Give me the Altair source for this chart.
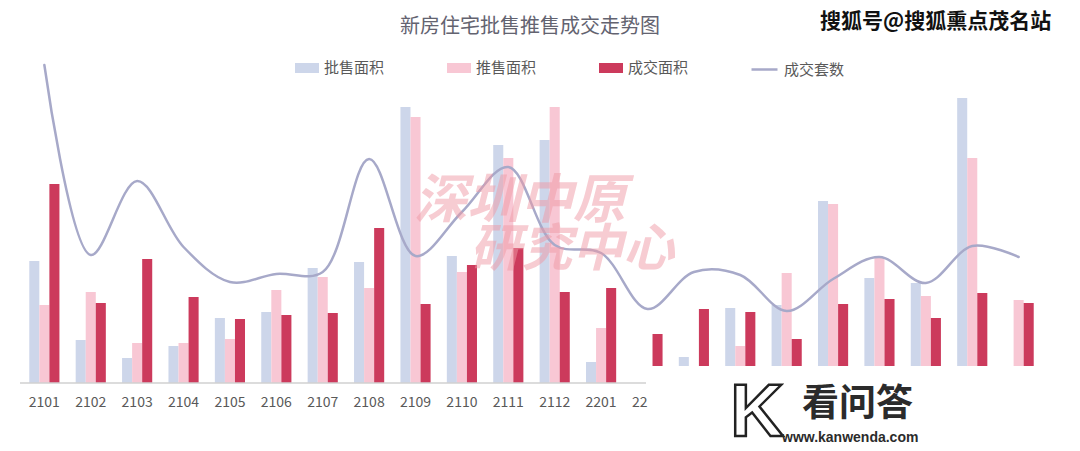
import altair as alt
import pandas as pd

# ---------------- data ----------------
months = ["2101", "2102", "2103", "2104", "2105", "2106", "2107", "2108", "2109", "2110", "2111",
          "2112", "2201", "2202", "2203", "2204", "2205", "2206", "2207", "2208", "2209", "2210"]
series_names = ["批售面积", "推售面积", "成交面积"]
pishou = [12.2, 4.3, 2.5, 3.7, 6.5, 7.1, 11.5, 12.1, 27.6, 12.7, 23.8, 24.3, 2.1,
          None, 0.9, 5.8, 6.1, 16.5, 8.8, 8.3, 26.8, None]
tuishou = [7.8, 9.1, 4.0, 4.0, 4.4, 9.3, 10.6, 9.5, 26.6, 11.1, 22.5, 27.6, 5.5,
           None, None, 2.0, 9.3, 16.2, 10.8, 7.0, 20.8, 6.6]
chengjiao = [19.9, 8.0, 12.4, 8.6, 6.4, 6.8, 7.0, 15.5, 7.9, 11.8, 13.5, 9.1, 9.5,
             3.2, 5.7, 5.4, 2.7, 6.2, 6.7, 4.8, 7.3, 6.3]
taoshu = [6360, 2560, 4040, 2720, 2020, 2180, 2220, 4480, 2540, 3420, 4320, 2760, 2600,
          1480, 2220, 2160, 1440, 2080, 2520, 2000, 2740, 2520]
line_name = "成交套数"
axis_months = months[:14]

colors = ["#cdd6ea", "#f8c7d4", "#cc3a5c"]
line_color = "#a7a9c9"
FONT = "Noto Sans CJK SC"
GREY = "#595959"

split = 13  # the right-hand part of the picture is a second screenshot, sitting higher
rows = []
for i, m in enumerate(months):
    for s, arr in zip(series_names, [pishou, tuishou, chengjiao]):
        rows.append({"month": m, "series": s, "value": arr[i], "seg": "a" if i < split else "b"})
bar_df = pd.DataFrame(rows)
line_df = pd.DataFrame({"month": months, "taoshu": taoshu, "name": [line_name] * len(months)})

# ---------------- layout ----------------
W, H = 1023, 333
bar_max = 33.3
shift = 1.7          # 17 px lift of the pasted right-hand screenshot
line_max = 6660

x_scale = alt.Scale(domain=months, paddingInner=0.35, paddingOuter=0.2)
x_axis = alt.Axis(title=None, labelAngle=0, ticks=False, tickSize=0, domain=False, grid=False,
                  labelPadding=12, labelFontSize=14, labelColor=GREY, labelFont=FONT,
                  values=axis_months,
                  labelExpr="datum.value == '2202' ? '22' : datum.value",
                  labelAlign={"condition": {"test": "datum.value == '2202'", "value": "right"},
                              "value": "center"})
x_enc = alt.X("month:N", scale=x_scale, axis=x_axis, sort=months)
xoff = alt.XOffset("series:N", sort=series_names,
                   scale=alt.Scale(domain=series_names, paddingInner=0, paddingOuter=0))

bar_legend = alt.Legend(title=None, orient="none", legendX=275, legendY=6, direction="horizontal",
                        symbolType="M-1,-0.417H1V0.417H-1Z", symbolSize=576, symbolStrokeWidth=0,
                        labelFontSize=15, labelColor=GREY, labelFont=FONT, labelOffset=5,
                        columnPadding=62, padding=0)
color_enc = alt.Color("series:N", scale=alt.Scale(domain=series_names, range=colors), legend=bar_legend)

bars_a = alt.Chart(bar_df).transform_filter("datum.seg == 'a'").mark_bar().encode(
    x=x_enc, xOffset=xoff,
    y=alt.Y("value:Q", stack=None, scale=alt.Scale(domain=[0, bar_max], nice=False, zero=False), axis=None),
    y2=alt.datum(0),
    color=color_enc,
)
bars_b = alt.Chart(bar_df).transform_filter("datum.seg == 'b'").mark_bar().encode(
    x=x_enc, xOffset=xoff,
    y=alt.Y("value:Q", stack=None, scale=alt.Scale(domain=[-shift, bar_max - shift], nice=False, zero=False),
            axis=None),
    y2=alt.datum(0),
    color=color_enc,
)

line = alt.Chart(line_df).mark_line(interpolate="catmull-rom", strokeWidth=2.5, strokeCap="round").encode(
    x=x_enc,
    y=alt.Y("taoshu:Q", scale=alt.Scale(domain=[0, line_max], nice=False, zero=False), axis=None),
    stroke=alt.Stroke("name:N", scale=alt.Scale(domain=[line_name], range=[line_color]),
                      legend=alt.Legend(title=None, orient="none", legendX=730, legendY=5,
                                        direction="horizontal", symbolType="stroke", symbolSize=676,
                                        symbolStrokeWidth=2.5, labelFontSize=15, labelColor=GREY,
                                        labelFont=FONT, labelOffset=5, padding=0)),
)

axis_rule = alt.Chart(pd.DataFrame({"a": [0]})).mark_rule(color="#d0d0d0", strokeWidth=1.5).encode(
    x=alt.value(0), x2=alt.value(626), y=alt.value(H))


def label(text, x, y, **kw):
    return alt.Chart(pd.DataFrame({"t": [text]})).mark_text(**kw).encode(
        text="t:N", x=alt.value(x), y=alt.value(y))


title = label("新房住宅批售推售成交走势图", 510, -23, font=FONT, fontSize=20, color="#636370",
              align="center", baseline="middle")
sohu = label("搜狐号@搜狐熏点茂名站", 800, -28, font=FONT, fontSize=21, fontWeight="bold",
             color="#111111", align="left", baseline="middle")
wm1 = label("深圳中原", 500, 152, font=FONT, fontSize=53, fontWeight="bold", fontStyle="italic",
            color="#f09aa6", opacity=0.5, align="center", baseline="middle")
wm2 = label("研究中心", 552, 201, font=FONT, fontSize=51, fontWeight="bold", fontStyle="italic",
            color="#f09aa6", opacity=0.5, align="center", baseline="middle")
k_logo = label("K", 737, 364, font="Liberation Sans", fontSize=74, fontWeight="bold",
               color="#ffffff", stroke="#222222", strokeWidth=2.5, align="center", baseline="middle")
kan = label("看问答", 782, 355, font=FONT, fontSize=37, fontWeight="bold", color="#2b2b2b",
            align="left", baseline="middle")
kan_url = label("www.kanwenda.com", 762, 388, font="Liberation Sans", fontSize=14, fontWeight="bold",
                color="#2b2b2b", align="left", baseline="middle")

chart = alt.layer(
    bars_a, bars_b, line, axis_rule, wm1, wm2, title, sohu, k_logo, kan, kan_url
).resolve_scale(y="independent").properties(
    width=W, height=H,
    padding={"left": 20, "top": 50, "right": 37, "bottom": 68},
    autosize=alt.AutoSizeParams(type="none"),
).configure(font=FONT, background="white").configure_view(strokeWidth=0, stroke="transparent")

chart.save("out.html", embed_options={"renderer": "svg", "actions": False})
